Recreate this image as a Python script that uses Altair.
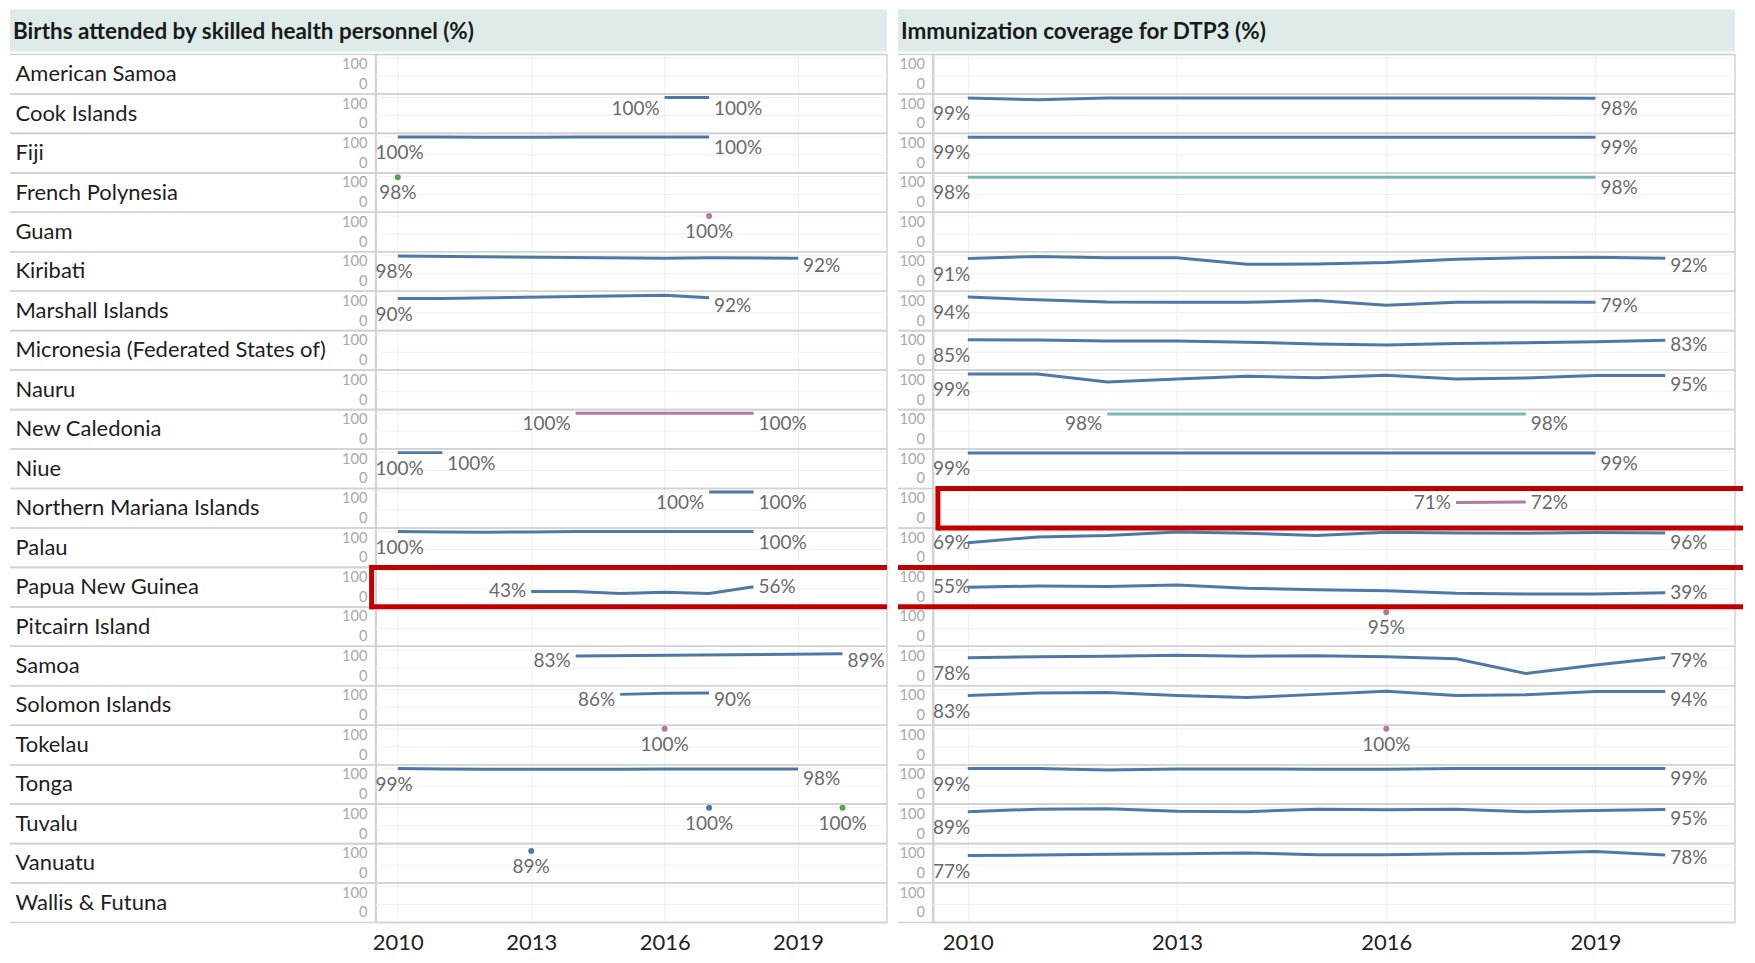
import altair as alt
import pandas as pd

FONT = "Lato"
N = None

YEARS = [2010, 2011, 2012, 2013, 2014, 2015, 2016, 2017, 2018, 2019, 2020]
X_TICK_YEARS = [2010, 2013, 2016, 2019]
Y_TICK_LABELS = [100, 0]
Y_GRID_VALUES = [50, 100]

COUNTRIES = [
    "American Samoa", "Cook Islands", "Fiji", "French Polynesia", "Guam", "Kiribati",
    "Marshall Islands", "Micronesia (Federated States of)", "Nauru", "New Caledonia", "Niue",
    "Northern Mariana Islands", "Palau", "Papua New Guinea", "Pitcairn Island", "Samoa",
    "Solomon Islands", "Tokelau", "Tonga", "Tuvalu", "Vanuatu", "Wallis & Futuna",
]

PANEL_TITLES = [
    "Births attended by skilled health personnel (%)",
    "Immunization coverage for DTP3 (%)",
]

SOURCES = ["Source 1", "Source 2", "Source 3", "Source 4"]
SOURCE_COLORS = ["#4e79a7", "#59a14f", "#b07aa1", "#76b7b2"]

# rows outlined in red in the reference
HIGHLIGHT_BIRTHS = ["Papua New Guinea"]
HIGHLIGHT_DTP3 = ["Northern Mariana Islands"]

# ---- Births attended by skilled health personnel (%), values by YEARS (None = no data)
BIRTHS_COOK_ISLANDS = [N, N, N, N, N, N, 100, 100, N, N, N]
BIRTHS_FIJI = [100, 100, 99, 99, 100, 100, 100, 100, N, N, N]
BIRTHS_FRENCH_POLYNESIA = [98, N, N, N, N, N, N, N, N, N, N]
BIRTHS_GUAM = [N, N, N, N, N, N, N, 100, N, N, N]
BIRTHS_KIRIBATI = [98, N, N, N, N, N, 92, 93, N, 92, N]
BIRTHS_MARSHALL_ISLANDS = [90, 90, N, N, N, N, 99, 92, N, N, N]
BIRTHS_NEW_CALEDONIA = [N, N, N, N, 100, N, N, N, 100, N, N]
BIRTHS_NIUE = [100, 100, N, N, N, N, N, N, N, N, N]
BIRTHS_NORTHERN_MARIANA = [N, N, N, N, N, N, N, 100, 100, N, N]
BIRTHS_PALAU = [100, 99, 98, 99, 100, 100, 100, 100, 100, N, N]
BIRTHS_PAPUA_NEW_GUINEA = [N, N, N, 43, 43, 37, 41, 37, 56, N, N]
BIRTHS_SAMOA = [N, N, N, N, 83, N, N, N, N, N, 89]
BIRTHS_SOLOMON_ISLANDS = [N, N, N, N, N, 86, 89, 90, N, N, N]
BIRTHS_TOKELAU = [N, N, N, N, N, N, 100, N, N, N, N]
BIRTHS_TONGA = [99, 98, 97, 97, 97, 97, 98, 98, 98, 98, N]
BIRTHS_TUVALU_A = [N, N, N, N, N, N, N, 100, N, N, N]
BIRTHS_TUVALU_B = [N, N, N, N, N, N, N, N, N, N, 100]
BIRTHS_VANUATU = [N, N, N, 89, N, N, N, N, N, N, N]

BIRTHS_SERIES = [
    ("Cook Islands", "Source 1", BIRTHS_COOK_ISLANDS),
    ("Fiji", "Source 1", BIRTHS_FIJI),
    ("French Polynesia", "Source 2", BIRTHS_FRENCH_POLYNESIA),
    ("Guam", "Source 3", BIRTHS_GUAM),
    ("Kiribati", "Source 1", BIRTHS_KIRIBATI),
    ("Marshall Islands", "Source 1", BIRTHS_MARSHALL_ISLANDS),
    ("New Caledonia", "Source 3", BIRTHS_NEW_CALEDONIA),
    ("Niue", "Source 1", BIRTHS_NIUE),
    ("Northern Mariana Islands", "Source 1", BIRTHS_NORTHERN_MARIANA),
    ("Palau", "Source 1", BIRTHS_PALAU),
    ("Papua New Guinea", "Source 1", BIRTHS_PAPUA_NEW_GUINEA),
    ("Samoa", "Source 1", BIRTHS_SAMOA),
    ("Solomon Islands", "Source 1", BIRTHS_SOLOMON_ISLANDS),
    ("Tokelau", "Source 3", BIRTHS_TOKELAU),
    ("Tonga", "Source 1", BIRTHS_TONGA),
    ("Tuvalu", "Source 1", BIRTHS_TUVALU_A),
    ("Tuvalu", "Source 2", BIRTHS_TUVALU_B),
    ("Vanuatu", "Source 1", BIRTHS_VANUATU),
]

# ---- Immunization coverage for DTP3 (%), values by YEARS (None = no data)
DTP3_COOK_ISLANDS = [99, 94, 99, 99, 99, 99, 99, 99, 99, 98, N]
DTP3_FIJI = [99, 99, 99, 99, 99, 99, 99, 99, 99, 99, N]
DTP3_FRENCH_POLYNESIA = [98, 98, 98, 98, 98, 98, 98, 98, 98, 98, N]
DTP3_KIRIBATI = [91, 97, 93, 93, 75, 76, 80, 89, 93, 95, 92]
DTP3_MARSHALL_ISLANDS = [94, 86, 80, 79, 79, 84, 71, 79, 80, 79, N]
DTP3_MICRONESIA = [85, 84, 81, 81, 78, 73, 70, 74, 76, 79, 83]
DTP3_NAURU = [99, 99, 77, 85, 93, 89, 96, 85, 88, 95, 95]
DTP3_NEW_CALEDONIA = [N, N, 98, 98, 98, 98, 98, 98, 98, N, N]
DTP3_NIUE = [99, 99, 99, 99, 99, 99, 99, 99, 99, 99, N]
DTP3_NORTHERN_MARIANA = [N, N, N, N, N, N, N, 71, 72, N, N]
DTP3_PALAU = [69, 85, 89, 99, 95, 89, 98, 96, 95, 97, 96]
DTP3_PAPUA_NEW_GUINEA = [55, 58, 57, 61, 52, 48, 45, 38, 36, 36, 39]
DTP3_PITCAIRN = [N, N, N, N, N, N, 95, N, N, N, N]
DTP3_SAMOA = [78, 81, 82, 85, 82, 84, 81, 75, 34, 58, 79]
DTP3_SOLOMON_ISLANDS = [83, 90, 91, 83, 77, 86, 95, 83, 85, 94, 94]
DTP3_TOKELAU = [N, N, N, N, N, N, 100, N, N, N, N]
DTP3_TONGA = [99, 99, 95, 98, 98, 97, 97, 99, 99, 99, 99]
DTP3_TUVALU = [89, 96, 97, 90, 89, 96, 94, 96, 89, 92, 95]
DTP3_VANUATU = [77, 78, 80, 82, 84, 79, 79, 82, 83, 88, 78]

DTP3_SERIES = [
    ("Cook Islands", "Source 1", DTP3_COOK_ISLANDS),
    ("Fiji", "Source 1", DTP3_FIJI),
    ("French Polynesia", "Source 4", DTP3_FRENCH_POLYNESIA),
    ("Kiribati", "Source 1", DTP3_KIRIBATI),
    ("Marshall Islands", "Source 1", DTP3_MARSHALL_ISLANDS),
    ("Micronesia (Federated States of)", "Source 1", DTP3_MICRONESIA),
    ("Nauru", "Source 1", DTP3_NAURU),
    ("New Caledonia", "Source 4", DTP3_NEW_CALEDONIA),
    ("Niue", "Source 1", DTP3_NIUE),
    ("Northern Mariana Islands", "Source 3", DTP3_NORTHERN_MARIANA),
    ("Palau", "Source 1", DTP3_PALAU),
    ("Papua New Guinea", "Source 1", DTP3_PAPUA_NEW_GUINEA),
    ("Pitcairn Island", "Source 3", DTP3_PITCAIRN),
    ("Samoa", "Source 1", DTP3_SAMOA),
    ("Solomon Islands", "Source 1", DTP3_SOLOMON_ISLANDS),
    ("Tokelau", "Source 3", DTP3_TOKELAU),
    ("Tonga", "Source 1", DTP3_TONGA),
    ("Tuvalu", "Source 1", DTP3_TUVALU),
    ("Vanuatu", "Source 1", DTP3_VANUATU),
]

# ---- layout / style
ROW_H = 39.5
PLOT_H = ROW_H * len(COUNTRIES)
X_DOMAIN = [2009.5, 2021.0]
Y_DOMAIN = [0, 110]
BAND = "#deebe8"
FRAME = "#d2d2d2"
LABEL_GREY = "#6a6a6a"
HIGHLIGHT = "#c00000"


def build_frames(series_list, panel):
    pts, labs = [], []
    for k, (country, src, vals) in enumerate(series_list):
        sid = f"{panel}-{k}"
        p = [(y, v) for y, v in zip(YEARS, vals) if v is not None]
        for y, v in p:
            pts.append(dict(country=country, series=sid, source=src, year=y, value=v, n=len(p)))
        if len(p) == 1:
            labs.append(dict(country=country, series=sid, year=p[0][0], value=p[0][1], kind="single"))
        else:
            first_kind = "edge" if p[0][0] == YEARS[0] else "start"
            labs.append(dict(country=country, series=sid, year=p[0][0], value=p[0][1], kind=first_kind))
            labs.append(dict(country=country, series=sid, year=p[-1][0], value=p[-1][1], kind="end"))
    return pd.DataFrame(pts), pd.DataFrame(labs)


def build_panel(series_list, panel, title, width, left_ext, show_names, boxes):
    pts, labs = build_frames(series_list, panel)
    off_scale = alt.Scale(domain=Y_DOMAIN, range=[ROW_H, 0])
    y_scale = alt.Scale(type="band", domain=COUNTRIES, paddingInner=0, paddingOuter=0)
    if show_names:
        y_axis = alt.Axis(title=None, labelAlign="left", labelPadding=left_ext - 5,
                          labelFont=FONT, labelFontSize=22, labelColor="#1e1e1e",
                          labelLimit=600, ticks=False, tickSize=0,
                          domainColor=FRAME, domainWidth=2, grid=False)
    else:
        y_axis = alt.Axis(title=None, labels=False, ticks=False, tickSize=0,
                          domainColor=FRAME, domainWidth=2, grid=False)
    Y = alt.Y("country:N", scale=y_scale, axis=y_axis)

    def X(field):
        return alt.X(f"{field}:Q", scale=alt.Scale(domain=X_DOMAIN, nice=False, zero=False),
                     axis=alt.Axis(values=X_TICK_YEARS, format="d", title=None, labelFont=FONT,
                                   labelFontSize=22, labelColor="#222222", ticks=False,
                                   domain=False, grid=True, gridColor="#efefef", labelPadding=10))

    def YO(field):
        return alt.YOffset(f"{field}:Q", scale=off_scale)

    color = alt.Color("source:N", scale=alt.Scale(domain=SOURCES, range=SOURCE_COLORS), legend=None)

    head_df = pd.DataFrame({"title": [title]})
    band = alt.Chart(head_df).mark_rect(color=BAND).encode(
        x=alt.value(-left_ext), x2=alt.value(width), y=alt.value(-45), y2=alt.value(-3))
    ttl = alt.Chart(head_df).mark_text(align="left", baseline="middle", font=FONT, fontSize=22.5,
                                       fontWeight="bold", color="#1a1a1a").encode(
        x=alt.value(-left_ext + 3), y=alt.value(-23), text="title:N")

    grid_df = pd.DataFrame([{"country": c, "v": v} for c in COUNTRIES for v in Y_GRID_VALUES])
    grid = alt.Chart(grid_df).mark_rule(color="#f0f0f0", strokeWidth=1).encode(
        y=Y, yOffset=YO("v"), x=alt.value(0), x2=alt.value(width))

    sep_df = pd.DataFrame([{"country": c, "v": v} for c in COUNTRIES for v in Y_DOMAIN])
    sep = alt.Chart(sep_df).mark_rule(color=FRAME, strokeWidth=1.6).encode(
        y=Y, yOffset=YO("v"), x=alt.value(-left_ext), x2=alt.value(width))

    tick_df = pd.DataFrame([{"country": c, "v": v} for c in COUNTRIES for v in Y_TICK_LABELS])
    tick_common = dict(align="right", baseline="middle", font=FONT, fontSize=14.7, color="#a9a9a9")
    t_top = alt.Chart(tick_df).transform_filter("datum.v == 100").mark_text(dy=7, **tick_common).encode(
        y=Y, yOffset=YO("v"), x=alt.value(-8), text="v:Q")
    t_bot = alt.Chart(tick_df).transform_filter("datum.v == 0").mark_text(dy=-9, **tick_common).encode(
        y=Y, yOffset=YO("v"), x=alt.value(-8), text="v:Q")

    line = alt.Chart(pts).mark_line(strokeWidth=3).encode(
        x=X("year"), y=Y, yOffset=YO("value"), color=color, detail="series:N",
        order=alt.Order("year:Q"))
    dots = alt.Chart(pts).transform_filter("datum.n == 1").mark_circle(size=36, opacity=1).encode(
        x=X("year"), y=Y, yOffset=YO("value"), color=color)

    lab_common = dict(baseline="middle", font=FONT, fontSize=19, color=LABEL_GREY)
    lbase = alt.Chart(labs).transform_calculate(txt="format(datum.value, '.0f') + '%'")
    edge = lbase.transform_filter("datum.kind == 'edge'").transform_calculate(
        lv="datum.value > 72 ? datum.value - 45 : datum.value", lx=str(X_DOMAIN[0])
    ).mark_text(align="left", dx=0, **lab_common).encode(
        x=X("lx"), y=Y, yOffset=YO("lv"), text="txt:N")
    start = lbase.transform_filter("datum.kind == 'start'").transform_calculate(
        lv="min(datum.value, 69)").mark_text(align="right", dx=-5, **lab_common).encode(
        x=X("year"), y=Y, yOffset=YO("lv"), text="txt:N")
    end = lbase.transform_filter("datum.kind == 'end'").transform_calculate(
        lv="min(datum.value, 69)").mark_text(align="left", dx=5, **lab_common).encode(
        x=X("year"), y=Y, yOffset=YO("lv"), text="txt:N")
    single = lbase.transform_filter("datum.kind == 'single'").transform_calculate(
        lv="datum.value - 45").mark_text(align="center", **lab_common).encode(
        x=X("year"), y=Y, yOffset=YO("lv"), text="txt:N")

    layers = [band, ttl, grid, sep, t_top, t_bot, line, dots, edge, start, end, single]

    # red highlight outlines (open on the right, running across to the page edge)
    mid = (Y_DOMAIN[0] + Y_DOMAIN[1]) / 2
    for country, x0, x1, with_left_edge in boxes:
        hl_df = pd.DataFrame([{"country": country, "v": v} for v in Y_DOMAIN])
        layers.append(alt.Chart(hl_df).mark_rule(color=HIGHLIGHT, strokeWidth=5).encode(
            y=Y, yOffset=YO("v"), x=alt.value(x0), x2=alt.value(x1)))
        if with_left_edge:
            mid_df = pd.DataFrame([{"country": country, "v": mid}])
            layers.append(alt.Chart(mid_df).mark_tick(
                color=HIGHLIGHT, orient="vertical", size=ROW_H + 5, thickness=5, opacity=1
            ).encode(y=Y, yOffset=YO("v"), x=alt.value(x0)))

    return alt.layer(*layers).properties(width=width, height=PLOT_H)


W_LEFT, W_RIGHT = 512, 803
left = build_panel(BIRTHS_SERIES, "b", PANEL_TITLES[0], W_LEFT, 366, True,
                   [(c, -4, W_LEFT, True) for c in HIGHLIGHT_BIRTHS])
right = build_panel(DTP3_SERIES, "d", PANEL_TITLES[1], W_RIGHT, 35, False,
                    [(c, -35, W_RIGHT + 8, False) for c in HIGHLIGHT_BIRTHS]
                    + [(c, 5, W_RIGHT + 8, True) for c in HIGHLIGHT_DTP3])

chart = alt.hconcat(left, right, spacing=3).configure_view(
    stroke=FRAME, strokeWidth=1.5
).properties(padding={"left": 0, "top": 0, "right": 0, "bottom": 0}, background="white")

chart.save("out.html", embed_options={"renderer": "svg", "actions": False})
